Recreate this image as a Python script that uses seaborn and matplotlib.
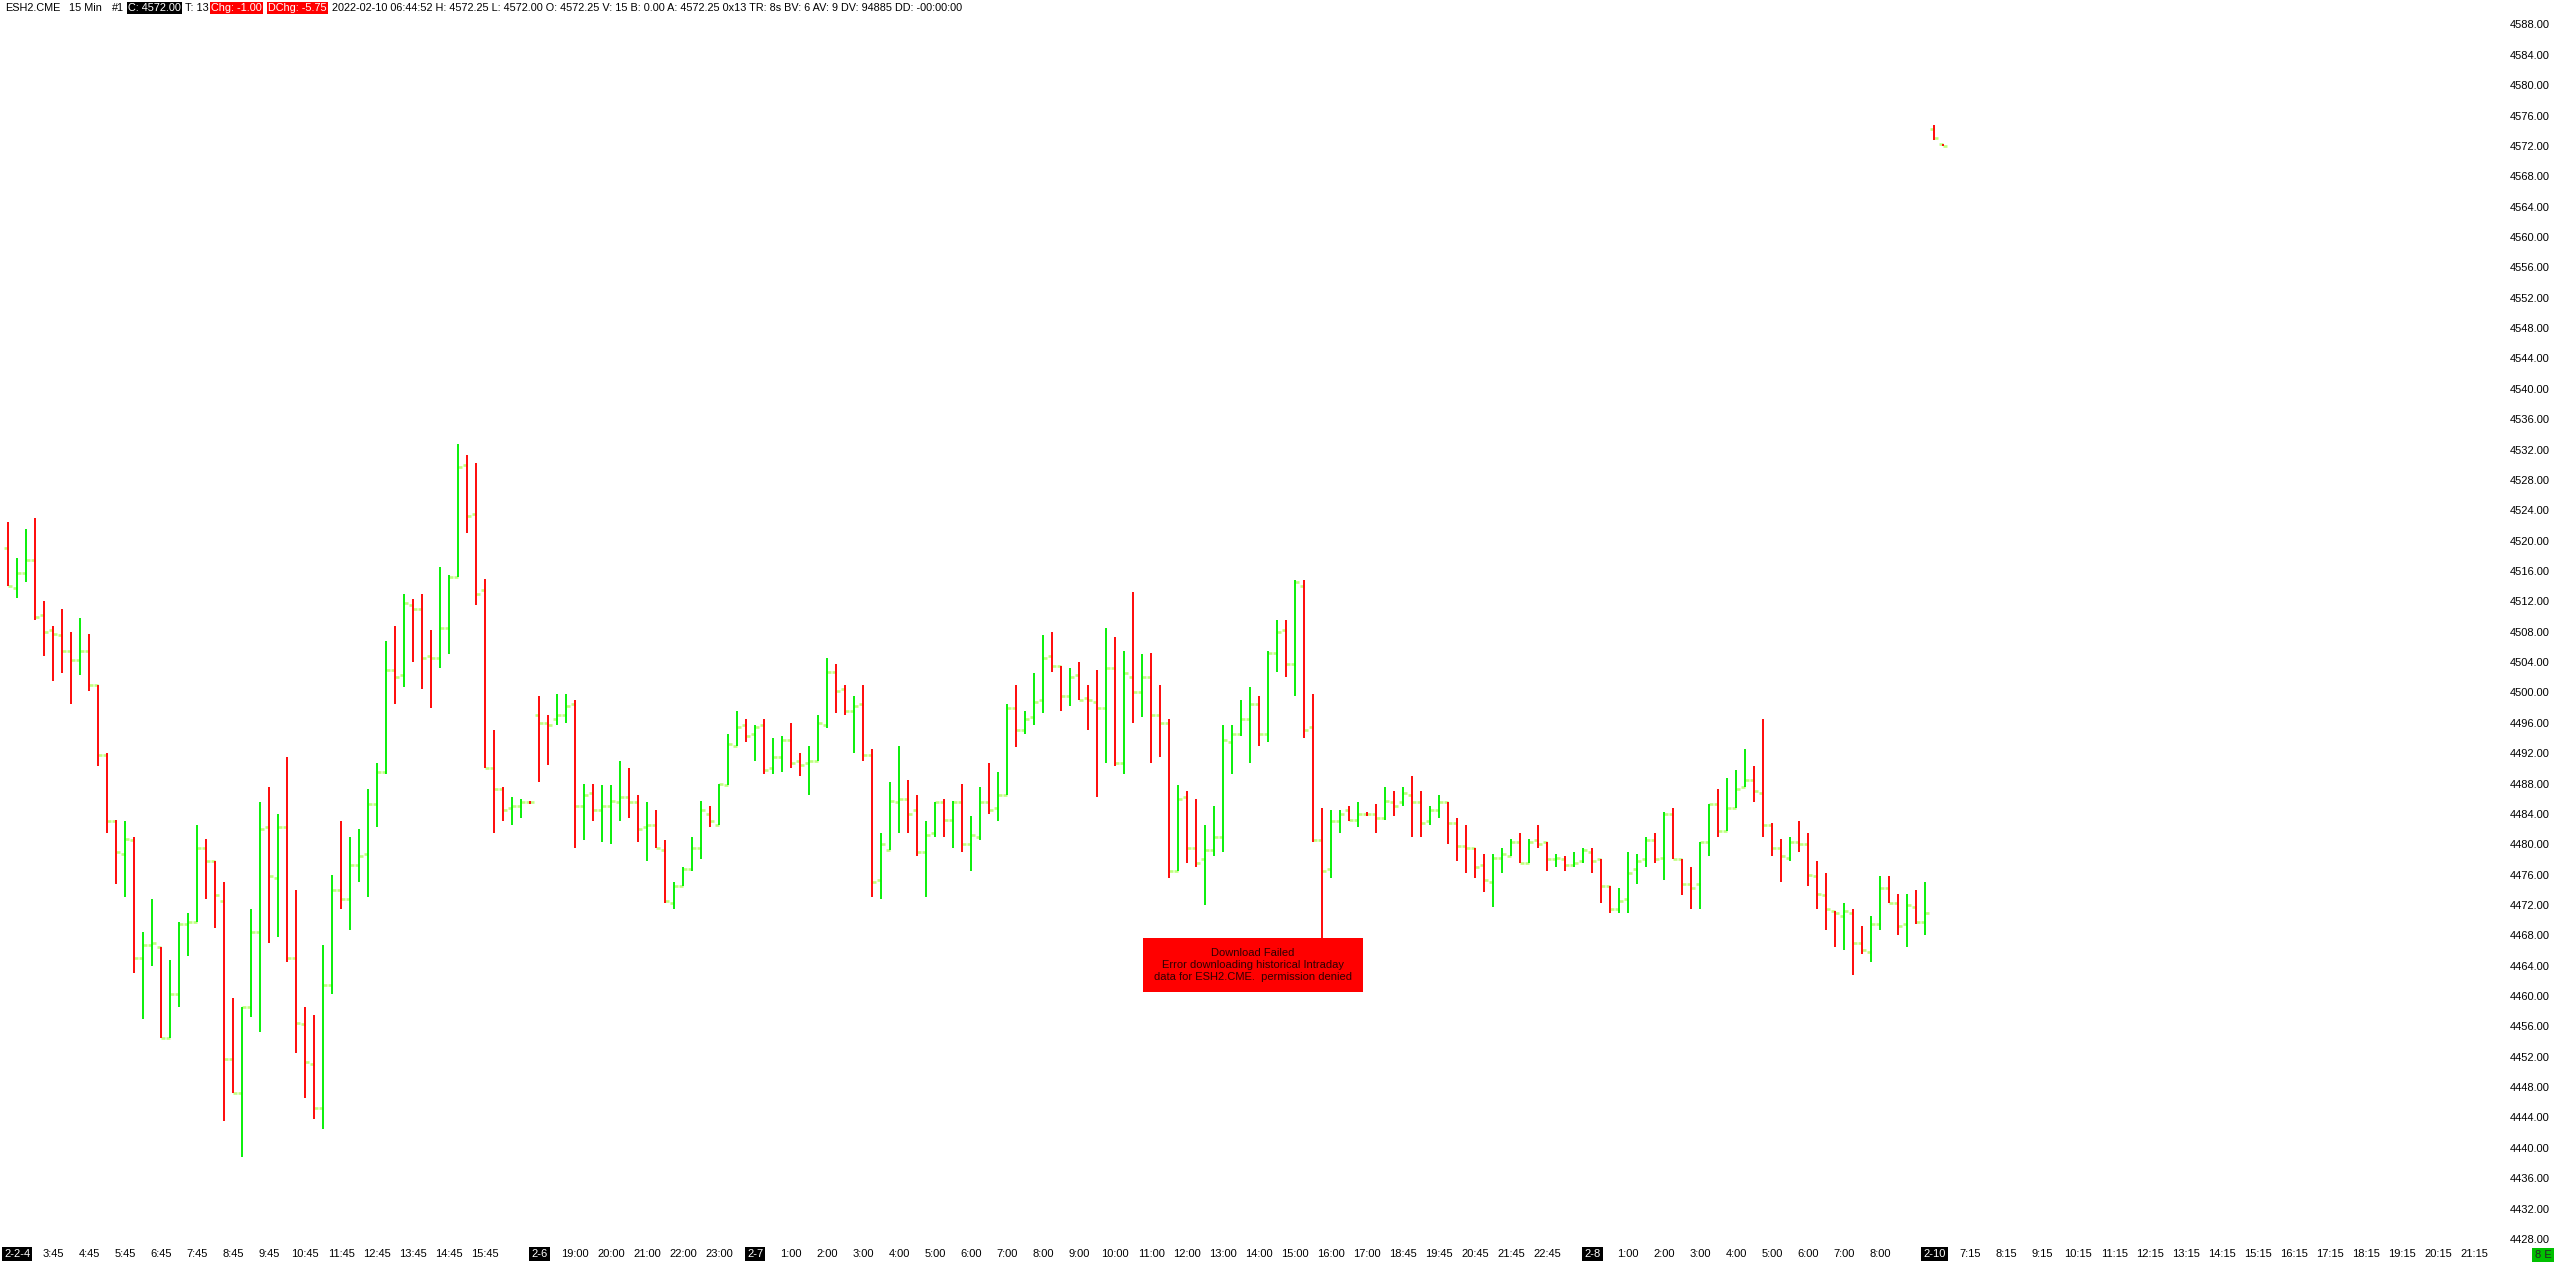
import numpy as np
import pandas as pd
import seaborn as sns
import matplotlib
matplotlib.use("Agg")
import matplotlib.pyplot as plt
from matplotlib.patches import Rectangle

OUT_PNG = "out.png"

# ESH2.CME 15 min bars, one value per bar, sessions 2-4, 2-6/2-7, 2-7/2-8, 2-10
OPENS = [
    4519.0, 4513.75, 4515.75, 4517.5, 4510.25, 4508.25, 4507.5, 4505.5, 4504.25, 4505.5,
    4501.0, 4491.75, 4483.0, 4478.75, 4480.5, 4465.0, 4466.75, 4466.5, 4454.5, 4460.25,
    4469.5, 4469.75, 4479.5, 4477.75, 4472.5, 4451.75, 4447.25, 4458.5, 4468.5, 4482.25,
    4475.5, 4482.25, 4465.0, 4456.25, 4451.0, 4445.25, 4461.5, 4474.0, 4472.75, 4477.25,
    4478.75, 4485.25, 4489.5, 4503.0, 4502.25, 4511.5, 4511.0, 4504.75, 4504.5, 4508.5,
    4515.25, 4530.0, 4523.5, 4513.5, 4490.0, 4487.25, 4484.75, 4485.0, 4485.5,
    4497.0, 4496.0, 4496.5, 4497.0, 4498.5, 4485.0, 4486.75, 4484.5, 4485.0, 4485.5,
    4486.25, 4485.5, 4482.25, 4482.5, 4479.25, 4472.25, 4474.5, 4476.75, 4479.5, 4484.0,
    4482.5, 4487.75, 4493.0, 4495.75, 4494.5, 4495.75, 4490.0, 4491.5, 4493.75, 4491.0,
    4490.75, 4491.0, 4495.75, 4502.75, 4500.5, 4497.5, 4498.5, 4491.75, 4475.25, 4479.25,
    4485.5, 4486.0, 4484.5, 4479.0, 4481.5, 4485.5, 4483.25, 4485.5, 4480.0, 4481.0,
    4485.5, 4484.75, 4486.5, 4498.0, 4495.0, 4496.75, 4499.0, 4504.75, 4503.5, 4499.5,
    4502.25, 4499.25, 4498.75, 4498.0, 4503.25, 4490.75, 4502.0, 4500.0, 4502.0, 4497.0,
    4496.0, 4476.5, 4486.25, 4479.5, 4478.0, 4479.25, 4481.0, 4493.5, 4494.5, 4496.5,
    4498.5, 4494.5, 4505.25, 4508.25, 4503.75, 4514.0, 4495.5, 4480.5, 4476.75, 4483.0,
    4484.5, 4483.25, 4484.0,
    4484.0, 4483.5, 4485.5, 4485.5, 4486.5, 4485.5, 4483.0, 4484.5, 4485.5, 4482.75,
    4479.75, 4479.5, 4477.25, 4475.0, 4478.25, 4478.5, 4480.25, 4477.5, 4480.5, 4480.25,
    4478.0, 4478.0, 4477.25, 4477.75, 4479.0, 4478.0, 4474.5, 4471.5, 4472.75, 4476.75,
    4478.0, 4480.5, 4478.25, 4484.0, 4478.0, 4474.75, 4474.75, 4480.25, 4485.25, 4481.75,
    4484.75, 4487.5, 4488.5, 4486.75, 4482.5, 4479.5, 4478.25, 4480.25, 4480.0, 4475.75,
    4473.25, 4471.25, 4470.5, 4471.0, 4467.0, 4465.75, 4469.5, 4474.25, 4472.25, 4469.5,
    4471.75, 4469.75,
    4574.25, 4572.25,
]
HIGHS = [
    4522.5, 4517.75, 4521.5, 4523.0, 4512.0, 4508.75, 4511.0, 4508.0, 4509.75, 4507.75,
    4501.0, 4492.0, 4483.25, 4483.0, 4481.0, 4468.5, 4472.75, 4466.5, 4464.75, 4469.75,
    4471.0, 4482.5, 4480.75, 4477.75, 4475.0, 4459.75, 4458.5, 4471.5, 4485.5, 4487.5,
    4484.0, 4491.5, 4474.0, 4458.5, 4457.5, 4466.75, 4476.0, 4483.0, 4481.0, 4482.0,
    4487.25, 4490.75, 4506.75, 4508.75, 4513.0, 4512.25, 4513.0, 4508.25, 4516.5, 4515.5,
    4532.75, 4531.25, 4530.25, 4515.0, 4495.0, 4487.5, 4486.25, 4486.0, 4485.75,
    4499.5, 4497.0, 4499.75, 4499.75, 4499.0, 4488.0, 4488.0, 4487.75, 4487.75, 4491.0,
    4490.0, 4486.5, 4485.5, 4484.5, 4480.5, 4475.0, 4477.0, 4481.0, 4485.75, 4485.0,
    4488.0, 4494.5, 4497.5, 4496.5, 4495.75, 4496.5, 4494.0, 4494.25, 4496.0, 4492.0,
    4493.0, 4497.0, 4504.5, 4503.75, 4501.0, 4499.5, 4501.0, 4492.5, 4481.5, 4488.25,
    4493.0, 4488.5, 4486.5, 4483.0, 4485.5, 4486.0, 4485.75, 4488.0, 4483.75, 4487.5,
    4490.75, 4489.5, 4498.5, 4501.0, 4497.5, 4502.5, 4507.5, 4508.0, 4503.5, 4503.25,
    4504.0, 4501.0, 4503.0, 4508.5, 4507.25, 4505.5, 4513.25, 4505.0, 4505.25, 4501.0,
    4496.5, 4487.75, 4487.0, 4486.0, 4482.5, 4485.0, 4495.75, 4495.75, 4499.0, 4500.75,
    4499.5, 4505.5, 4509.5, 4509.5, 4514.75, 4514.75, 4499.75, 4484.75, 4484.5, 4484.5,
    4485.0, 4485.5, 4484.25,
    4485.25, 4487.5, 4487.0, 4487.5, 4489.0, 4487.0, 4485.0, 4486.5, 4485.5, 4483.5,
    4482.5, 4479.5, 4478.75, 4478.75, 4479.5, 4480.75, 4481.5, 4480.75, 4482.5, 4480.25,
    4478.75, 4478.5, 4479.0, 4479.5, 4479.5, 4478.0, 4474.5, 4474.25, 4479.0, 4478.75,
    4481.0, 4481.5, 4484.25, 4484.75, 4478.0, 4477.0, 4480.25, 4485.25, 4487.25, 4488.75,
    4489.75, 4492.5, 4490.25, 4496.5, 4482.75, 4480.75, 4481.0, 4483.0, 4481.5, 4477.75,
    4476.25, 4471.25, 4472.25, 4471.5, 4469.25, 4470.5, 4475.75, 4475.75, 4473.5, 4473.5,
    4474.0, 4475.0,
    4574.75, 4572.25,
]
LOWS = [
    4514.0, 4512.5, 4514.5, 4509.5, 4504.75, 4501.5, 4502.5, 4498.5, 4502.25, 4500.25,
    4490.25, 4481.5, 4474.75, 4473.0, 4463.0, 4457.0, 4464.0, 4454.5, 4454.5, 4458.5,
    4465.25, 4469.75, 4472.75, 4469.0, 4443.5, 4447.25, 4438.75, 4457.25, 4455.25, 4467.0,
    4467.75, 4464.5, 4452.5, 4446.5, 4443.75, 4442.5, 4460.25, 4471.5, 4468.75, 4475.0,
    4473.0, 4482.25, 4489.25, 4498.5, 4500.75, 4504.0, 4500.5, 4498.0, 4503.25, 4505.0,
    4515.25, 4521.0, 4511.5, 4490.0, 4481.5, 4483.0, 4482.5, 4483.5, 4485.25,
    4488.25, 4490.5, 4495.75, 4496.0, 4479.5, 4480.5, 4483.0, 4480.25, 4480.0, 4483.0,
    4483.5, 4480.25, 4477.75, 4479.5, 4472.25, 4471.5, 4474.5, 4476.5, 4478.0, 4482.25,
    4482.5, 4487.75, 4493.0, 4493.5, 4491.0, 4489.25, 4489.25, 4489.5, 4490.0, 4489.0,
    4486.5, 4491.0, 4495.25, 4497.25, 4497.0, 4492.0, 4491.0, 4473.0, 4472.75, 4479.25,
    4481.5, 4481.5, 4478.5, 4473.0, 4481.0, 4481.0, 4479.5, 4479.0, 4476.5, 4480.5,
    4484.0, 4483.0, 4486.5, 4492.75, 4494.5, 4495.75, 4497.25, 4502.75, 4497.5, 4498.25,
    4499.0, 4495.0, 4486.25, 4490.75, 4490.25, 4489.25, 4496.0, 4496.75, 4490.75, 4491.5,
    4475.5, 4476.5, 4477.5, 4477.0, 4472.0, 4478.5, 4479.0, 4489.25, 4494.25, 4490.75,
    4493.0, 4493.5, 4502.75, 4502.0, 4499.5, 4494.0, 4480.25, 4467.0, 4475.5, 4481.5,
    4483.0, 4482.25, 4483.75,
    4481.5, 4483.25, 4483.75, 4485.0, 4481.0, 4481.0, 4482.5, 4483.5, 4480.0, 4477.75,
    4476.25, 4475.5, 4473.75, 4471.75, 4476.25, 4478.5, 4477.5, 4477.5, 4479.5, 4476.5,
    4477.0, 4476.5, 4477.0, 4477.5, 4476.25, 4472.25, 4471.0, 4471.0, 4471.0, 4474.75,
    4477.0, 4477.5, 4475.25, 4478.0, 4473.25, 4471.5, 4471.5, 4478.5, 4481.0, 4481.75,
    4484.75, 4487.5, 4485.5, 4481.0, 4478.5, 4475.0, 4477.75, 4479.0, 4474.5, 4471.5,
    4468.75, 4466.5, 4466.0, 4462.75, 4465.5, 4464.5, 4468.75, 4472.25, 4468.0, 4466.5,
    4469.5, 4468.0,
    4572.75, 4572.0,
]
CLOSES = [
    4514.0, 4515.75, 4517.5, 4510.0, 4508.0, 4507.75, 4505.5, 4504.25, 4505.5, 4501.0,
    4491.75, 4483.0, 4479.0, 4480.75, 4465.0, 4466.75, 4467.0, 4454.5, 4460.25, 4469.5,
    4469.75, 4479.5, 4477.75, 4473.25, 4451.75, 4447.25, 4458.5, 4468.5, 4482.0, 4475.75,
    4482.25, 4465.0, 4456.5, 4451.25, 4445.25, 4461.5, 4474.0, 4472.75, 4477.25, 4478.5,
    4485.25, 4489.5, 4503.0, 4502.0, 4511.75, 4511.0, 4504.5, 4504.5, 4508.5, 4515.25,
    4529.75, 4523.25, 4513.0, 4490.0, 4487.25, 4484.5, 4485.0, 4485.5, 4485.5,
    4496.0, 4495.75, 4497.0, 4498.25, 4485.0, 4486.5, 4484.5, 4485.0, 4485.75, 4486.25,
    4485.5, 4482.0, 4482.5, 4479.5, 4472.5, 4474.5, 4476.75, 4479.5, 4484.5, 4483.0,
    4488.0, 4493.25, 4495.5, 4494.25, 4495.5, 4489.75, 4491.5, 4493.75, 4490.75, 4490.5,
    4491.0, 4496.0, 4502.75, 4500.25, 4497.5, 4498.25, 4491.75, 4475.0, 4480.0, 4485.75,
    4486.0, 4484.0, 4479.0, 4481.25, 4485.5, 4483.25, 4485.5, 4480.0, 4481.25, 4485.5,
    4484.5, 4486.5, 4498.0, 4495.0, 4496.5, 4498.75, 4504.5, 4503.5, 4499.5, 4502.0,
    4499.0, 4499.0, 4498.0, 4503.25, 4490.75, 4502.5, 4500.0, 4502.0, 4497.0, 4496.0,
    4476.5, 4486.0, 4479.5, 4477.5, 4479.25, 4481.0, 4493.75, 4494.5, 4496.5, 4498.5,
    4494.5, 4505.25, 4508.0, 4503.75, 4514.5, 4495.0, 4480.5, 4476.5, 4483.0, 4484.0,
    4483.25, 4484.0, 4484.0,
    4483.5, 4485.75, 4485.0, 4486.75, 4485.5, 4482.75, 4484.5, 4485.5, 4482.75, 4479.75,
    4479.5, 4477.0, 4475.25, 4478.25, 4478.75, 4480.25, 4477.5, 4480.25, 4480.0, 4478.0,
    4478.25, 4477.25, 4477.5, 4479.25, 4477.75, 4474.5, 4471.5, 4472.5, 4476.25, 4477.75,
    4480.5, 4478.0, 4484.0, 4478.0, 4474.75, 4474.25, 4480.25, 4485.25, 4481.75, 4484.75,
    4487.25, 4488.5, 4487.0, 4482.5, 4479.5, 4478.5, 4480.25, 4480.0, 4476.0, 4473.5,
    4471.5, 4471.0, 4471.25, 4467.0, 4466.0, 4469.5, 4474.25, 4472.25, 4469.25, 4472.0,
    4469.75, 4471.0,
    4573.0, 4572.0,
]

# bottom scale labels: (first bar, labels every 4 bars)
LABEL_RUNS = [
    (1, ["2-2-4", "3:45", "4:45", "5:45", "6:45", "7:45", "8:45", "9:45", "10:45",
         "11:45", "12:45", "13:45", "14:45", "15:45"]),
    (59, ["2-6", "19:00", "20:00", "21:00", "22:00", "23:00", "2-7", "1:00", "2:00",
          "3:00", "4:00", "5:00", "6:00", "7:00", "8:00", "9:00", "10:00", "11:00",
          "12:00", "13:00", "14:00", "15:00", "16:00", "17:00", "18:45", "19:45",
          "20:45", "21:45", "22:45"]),
    (176, ["2-8", "1:00", "2:00", "3:00", "4:00", "5:00", "6:00", "7:00", "8:00"]),
    (214, ["2-10", "7:15", "8:15", "9:15", "10:15", "11:15", "12:15", "13:15", "14:15",
           "15:15", "16:15", "17:15", "18:15", "19:15", "20:15", "21:15"]),
]
PRICE_TICKS = np.arange(4428, 4589, 4)

HEADER = [
    ("ESH2.CME", None),
    ("15 Min", None),
    ("#1", None),
    ("C: 4572.00", "black"),
    ("T: 13", None),
    ("Chg: -1.00", "red"),
    ("DChg: -5.75", "red"),
    ("2022-02-10 06:44:52 H: 4572.25 L: 4572.00 O: 4572.25 V: 15 B: 0.00 A: 4572.25 "
     "0x13 TR: 8s BV: 6 AV: 9 DV: 94885 DD: -00:00:00", None),
]
HEADER_X = [5, 69, 112, 128, 185, 211, 268, 332]
MESSAGE = ("Download Failed\nError downloading historical Intraday\n"
           "data for ESH2.CME.  permission denied")

W, H = 2556, 1266
UP = "#00ee00"
DOWN = "#ff0000"
TICK = "#c0ff80"


def main():
    sns.set_theme(style="white")
    plt.rcParams["font.family"] = ["Liberation Sans", "DejaVu Sans"]

    bars = pd.DataFrame({"open": OPENS, "high": HIGHS, "low": LOWS, "close": CLOSES})
    bars["x"] = np.arange(len(bars))
    colors = np.where(bars["close"] > bars["open"], UP, DOWN)

    fig = plt.figure(figsize=(W / 100, H / 100), dpi=100)
    ax = fig.add_axes([0, 1 - 1245 / H, 2490 / W, 1245 / H])

    ax.vlines(bars["x"], bars["low"], bars["high"], colors=colors, lw=1.35, zorder=3)
    ax.hlines(bars["open"], bars["x"] - 0.46, bars["x"], colors=TICK, lw=1.9,
              capstyle="butt", zorder=2)
    ax.hlines(bars["close"], bars["x"], bars["x"] + 0.46, colors=TICK, lw=1.9,
              capstyle="butt", zorder=2)

    ax.set_xlim((0 - 8.2) / 9, (2490 - 8.2) / 9)
    ax.set_ylim(4588 - (1245 - 24.5) / 7.59, 4588 + 24.5 / 7.59)

    # price scale on the right
    ax.yaxis.tick_right()
    ax.set_yticks(PRICE_TICKS, [f"{v:.2f}" for v in PRICE_TICKS])
    ax.tick_params(axis="y", length=0, pad=14.5, labelsize=8, labelcolor="black")

    # time scale
    pos, txt = [], []
    for start, labels in LABEL_RUNS:
        for k, lab in enumerate(labels):
            pos.append(start + 4 * k)
            txt.append(lab)
    ax.set_xticks(pos, txt)
    ax.tick_params(axis="x", length=0, pad=3, labelsize=8, labelcolor="black")
    for lbl in ax.get_xticklabels():
        if "-" in lbl.get_text():
            lbl.set_color("white")
            lbl.set_bbox(dict(boxstyle="square,pad=0.2", fc="black", ec="none"))

    sns.despine(ax=ax, left=True, bottom=True, right=True, top=True)
    ax.grid(False)

    # header line
    for (text, bg), x in zip(HEADER, HEADER_X):
        kw = {}
        if bg is not None:
            kw["bbox"] = dict(boxstyle="square,pad=0.12", fc=bg, ec="none")
        fig.text(x / W, 1 - 8 / H, text, ha="left", va="center", fontsize=7.8,
                 color="white" if bg else "black", **kw)

    # download failed message
    fig.add_artist(Rectangle((1143 / W, 1 - 992 / H), 220 / W, 54 / H,
                             transform=fig.transFigure, fc="#ff0000", ec="none"))
    fig.text(1253 / W, 1 - 965 / H, MESSAGE, ha="center", va="center", ma="center",
             fontsize=8, color="#300000", linespacing=1.25)

    fig.text(2543 / W, 1 - 1255 / H, "8 E", ha="center", va="center", fontsize=8,
             bbox=dict(boxstyle="square,pad=0.2", fc="#00c000", ec="none"))

    fig.savefig(OUT_PNG, dpi=100, facecolor="white")
    plt.close(fig)


if __name__ == "__main__":
    main()
